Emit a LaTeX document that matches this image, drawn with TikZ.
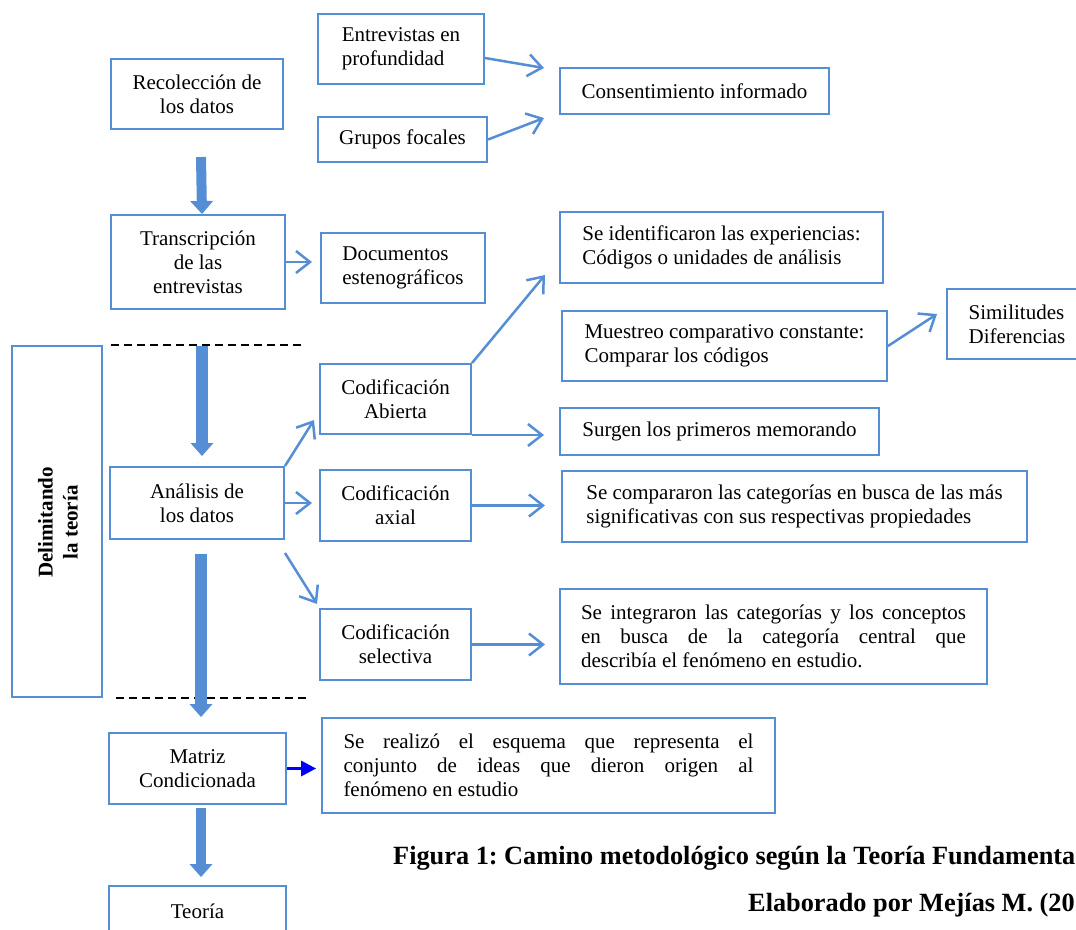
\documentclass[tikz,border=0pt]{standalone}
\usepackage{fontspec}
\setmainfont{Liberation Serif}
\frenchspacing
\usetikzlibrary{arrows.meta}
\definecolor{boxblue}{HTML}{558ED5}
\definecolor{linkblue}{HTML}{0000FF}
\tikzset{
  box/.style={draw=boxblue, line width=2pt, inner sep=0pt, align=center,
              font=\fontsize{21}{24}\selectfont},
  lbox/.style={box, align=left},
  flow/.style={draw=boxblue, line width=2.5pt,
               -{Straight Barb[length=14pt,width=22pt]}},
  bigarrow/.style={draw=boxblue, line width=#1,
               -{Triangle[length=13pt,width=23pt,line width=0pt]}},
  sepline/.style={black, line width=1.5pt, dash pattern=on 8pt off 5pt},
  caption/.style={anchor=west, inner sep=0pt,
               font=\bfseries\fontsize{26.3}{30}\selectfont}
}
\begin{document}
\begin{tikzpicture}[x=1pt,y=-1pt]
\useasboundingbox (0,0) rectangle (1076,929);
\clip (0,0) rectangle (1076,929);

% collection stage
\node[box, minimum width=172pt, minimum height=70pt] (rec) at (197,94) {Recolección de\\los datos};
\node[lbox, minimum width=166pt, minimum height=70pt] (ent) at (401,49) {Entrevistas en\\profundidad};
\node[box, minimum width=169pt, minimum height=45pt] (gru) at (402.5,139.5) {Grupos focales};
\node[box, minimum width=269pt, minimum height=46pt] (con) at (694.5,91) {Consentimiento informado};

% transcription stage
\node[box, minimum width=174pt, minimum height=94pt] (tra) at (198,262) {Transcripción\\de las\\entrevistas};
\node[lbox, minimum width=164pt, minimum height=70pt] (doc) at (403,268) {Documentos\\estenográficos};

% coding
\node[lbox, minimum width=323pt, minimum height=71pt] (sei) at (721.5,247.5) {Se identificaron las experiencias:\\Códigos o unidades de análisis};
\node[lbox, minimum width=325pt, minimum height=70pt] (mue) at (724.5,346) {Muestreo comparativo constante:\\Comparar los códigos};
\node[lbox, minimum width=140pt, minimum height=70pt] (sim) at (1017,324) {Similitudes\\Diferencias};
\node[box, minimum width=319pt, minimum height=47pt] (sur) at (719.5,431.5) {Surgen los primeros memorando};
\node[box, minimum width=151pt, minimum height=70pt] (abi) at (395.5,399) {Codificación\\Abierta};
\node[box, minimum width=174pt, minimum height=72pt] (ana) at (197,503) {Análisis de\\los datos};
\node[box, minimum width=151pt, minimum height=71pt] (axi) at (395.5,505.5) {Codificación\\axial};
\node[lbox, minimum width=465pt, minimum height=71pt] (scp) at (794.5,506.5) {Se compararon las categorías en busca de las más\\significativas con sus respectivas propiedades};
\node[box, minimum width=151pt, minimum height=71pt] (sel) at (395.5,644.5) {Codificación\\selectiva};
\node[lbox, minimum width=427pt, minimum height=95pt] (sit) at (773.5,636.5)
  {\makebox[385pt][s]{Se integraron las categorías y los conceptos}\\
   \makebox[385pt][s]{en busca de la categoría central que}\\
   describía el fenómeno en estudio.};

% side band
\node[box, minimum width=90pt, minimum height=351pt] (del) at (57,521.5) {};
\node[rotate=90, inner sep=0pt, align=center, font=\bfseries\fontsize{21}{25}\selectfont] (deltxt) at ([xshift=1pt,yshift=-1pt]del.center) {Delimitando\\la teoría};
\draw[sepline] ([xshift=8pt]del.north east) -- ++(190,0);
\draw[sepline] ([xshift=13pt]del.south east) -- ++(190,0);

% final stages
\node[box, minimum width=177pt, minimum height=71pt] (mat) at (197.5,768.5) {Matriz\\Condicionada};
\node[lbox, minimum width=453pt, minimum height=95pt] (ser) at (548.5,765.5)
  {\makebox[410pt][s]{Se realizó el esquema que representa el}\\
   \makebox[410pt][s]{conjunto de ideas que dieron origen al}\\
   fenómeno en estudio};
\node[box, minimum width=177pt, minimum height=50pt] (teo) at (197.5,911) {Teoría};

% caption
\node[caption] (fig) at (393,858) {Figura 1: Camino metodológico según la Teoría Fundamenta};
\node[caption] (aut) at (748,905) {Elaborado por Mejías M. (20};

% main flow
\draw[bigarrow=10pt] ([xshift=4pt,yshift=-27pt]rec.south) -- ([xshift=4pt]tra.north);
\draw[bigarrow=12pt] ([xshift=4pt,yshift=-36pt]tra.south) -- ([xshift=5pt,yshift=10pt]ana.north);
\draw[bigarrow=12pt] ([xshift=4pt,yshift=-14pt]ana.south) -- ([xshift=3.5pt,yshift=15pt]mat.north);
\draw[bigarrow=10pt] ([xshift=3.5pt,yshift=-3pt]mat.south) -- ([xshift=3.5pt,yshift=8pt]teo.north);

% side links
\draw[flow] ([yshift=-9pt]ent.east) -- ([xshift=-15pt,yshift=23pt]con.west);
\draw[flow] (gru.east) -- ([xshift=-15pt,yshift=-27pt]con.west);
\draw[flow] (tra.east) -- ([xshift=-8pt]doc.west |- tra.east);
\draw[flow] (abi.north east) -- ([xshift=-14pt,yshift=9pt]sei.south west);
\draw[flow] (abi.south east) -- ([xshift=-15pt,yshift=-3.5pt]sur.west);
\draw[flow] (mue.east) -- ([xshift=-9pt,yshift=10pt]sim.west);
\draw[flow] (ana.north east) -- ([xshift=-5pt,yshift=15pt]abi.south west);
\draw[flow] (ana.east) -- ([xshift=-7pt]axi.west |- ana.east);
\draw[flow] ([yshift=-13pt]ana.south east) -- ([xshift=-2pt,yshift=4pt]sel.north west);
\draw[flow] (axi.east) -- ([xshift=-16pt]scp.west |- axi.east);
\draw[flow] (sel.east) -- ([xshift=-14pt]sit.west |- sel.east);
\draw[draw=linkblue, line width=3pt, -{Triangle[length=15pt,width=16pt,line width=0pt]}]
  (mat.east) -- ([xshift=-5pt]ser.west |- mat.east);
\end{tikzpicture}
\end{document}
